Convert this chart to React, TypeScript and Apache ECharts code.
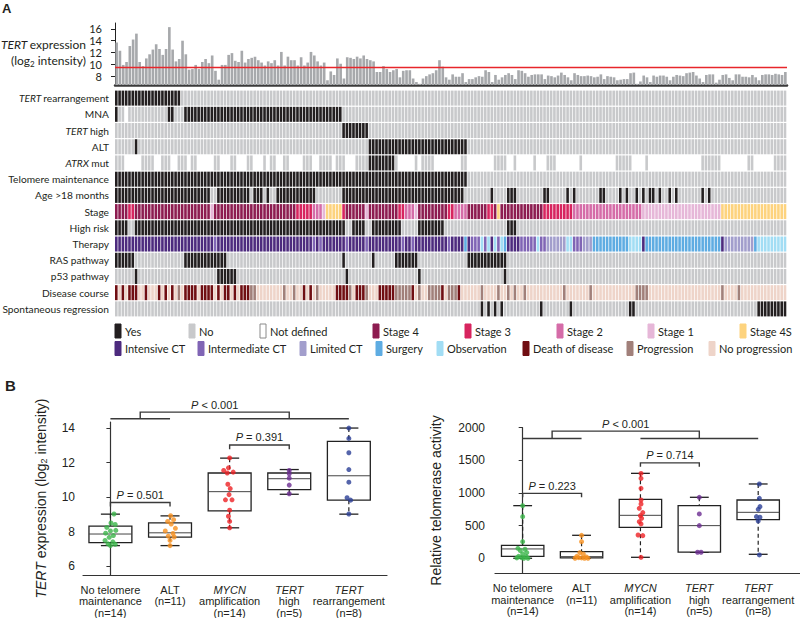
import React, { useEffect, useRef } from "react";
import * as echarts from "echarts";

type Seg = [number, number, string];

const N = 204;

// TERT expression (log2 intensity) per tumour
const expression: number[] = [
  13.7, 12.3, 9.9, 10.4, 13.1, 14.2, 15.2, 10.4, 9.7, 11.0,
  11.7, 12.5, 13.4, 12.6, 11.6, 12.6, 16.3, 12.5, 10.5, 10.9,
  14.0, 11.7, 9.1, 9.2, 9.9, 9.2, 10.4, 10.9, 10.2, 11.5,
  8.9, 7.4, 9.9, 9.9, 11.6, 11.9, 10.6, 10.4, 12.3, 10.3,
  10.9, 11.1, 11.3, 10.7, 10.3, 9.8, 10.5, 10.2, 10.7, 9.8,
  12.1, 9.8, 11.3, 10.7, 10.7, 9.8, 11.2, 9.8, 10.3, 12.1,
  11.5, 10.5, 9.8, 10.3, 7.3, 8.8, 8.2, 11.0, 10.1, 7.6,
  11.2, 11.1, 10.9, 11.3, 11.0, 11.5, 10.9, 10.7, 10.5, 8.7,
  8.7, 9.7, 9.2, 8.7, 9.0, 9.2, 7.8, 8.9,
  9.0, 9.0, 7.6, 7.0, 6.7, 7.6, 8.0, 8.3, 8.5, 9.0,
  10.7, 9.6, 7.8, 7.4, 8.3, 7.9, 7.9, 8.5, 7.0, 7.5,
  7.5, 7.8, 8.0, 7.9, 9.0, 8.7, 7.0, 8.2, 7.4, 7.8,
  8.2, 8.5, 8.2, 7.5, 9.0, 8.9, 8.5, 7.9, 8.2, 8.3,
  8.3, 8.3, 7.5, 8.1, 8.0, 7.8, 8.1, 8.6, 8.2, 7.8,
  7.3, 8.5, 8.2, 8.0, 8.0, 8.1, 8.0, 7.8, 7.9, 8.3,
  7.5, 8.0, 7.9, 7.8, 7.3, 7.4, 7.5, 7.5, 8.5, 8.6,
  6.7, 7.1, 8.1, 7.8, 7.0, 8.1, 7.9, 8.1, 8.1, 7.9,
  7.3, 7.9, 8.2, 8.1, 8.0, 8.5, 8.6, 8.7, 8.1, 7.6,
  7.0, 8.2, 8.3, 8.3, 6.9, 7.4, 8.2, 8.3, 7.7, 7.3,
  8.3, 8.3, 7.9, 7.9, 7.8, 8.2, 7.8, 7.3, 8.2, 8.3,
  8.3, 8.2, 8.4, 8.3, 8.2, 8.7,
];
const expressionThreshold = 9.5;
const expressionTicks = [8, 10, 12, 14, 16];

// Oncoprint rows
const rowLabels = [
  "TERT rearrangement", "MNA", "TERT high", "ALT", "ATRX mut", "Telomere maintenance",
  "Age >18 months", "Stage", "High risk", "Therapy", "RAS pathway", "p53 pathway",
  "Disease course", "Spontaneous regression",
];
const italicWords = ["TERT", "ATRX"];
const rowDefaults = ["N", "N", "N", "N", "N", "N", "N", "S4", "N", "IC", "N", "N", "NP", "N"];

const tertRearrangement: Seg[] = [[0, 20, "Y"]];
const mna: Seg[] = [[0, 1, "Y"], [3, 4, "U"], [16, 18, "Y"], [21, 69, "Y"]];
const tertHigh: Seg[] = [[69, 77, "Y"]];
const alt: Seg[] = [[6, 7, "Y"], [77, 107, "Y"]];
const atrxMut: Seg[] = [
  [3, 8, "U"], [12, 14, "U"], [17, 19, "U"], [22, 23, "U"], [25, 30, "U"], [32, 35, "U"],
  [37, 40, "U"], [42, 45, "U"], [46, 47, "U"], [49, 51, "U"], [53, 57, "U"], [60, 62, "U"],
  [66, 67, "U"], [70, 73, "U"], [77, 85, "Y"], [86, 91, "U"], [92, 93, "U"], [97, 105, "U"],
  [107, 115, "U"], [119, 121, "U"], [122, 127, "U"], [128, 131, "U"], [134, 141, "U"],
  [142, 152, "U"], [157, 161, "U"], [162, 178, "U"], [184, 192, "U"], [194, 200, "U"],
];
const telomereMaintenance: Seg[] = [[0, 107, "Y"]];
const ageOver18: Seg[] = [
  [0, 29, "Y"], [31, 41, "Y"], [42, 45, "Y"], [46, 47, "Y"], [49, 61, "Y"], [69, 106, "Y"],
  [114, 115, "Y"], [119, 122, "Y"], [130, 132, "Y"], [137, 138, "Y"], [139, 140, "Y"],
  [147, 149, "Y"], [153, 154, "Y"], [155, 156, "Y"], [158, 159, "Y"], [160, 161, "Y"],
  [162, 164, "Y"], [165, 166, "Y"], [168, 169, "Y"], [170, 171, "Y"], [178, 179, "Y"], [180, 181, "Y"],
];
const stage: Seg[] = [
  [4, 6, "S3"], [29, 30, "S1"], [55, 60, "S3"], [60, 63, "S2"], [63, 64, "S1"], [64, 69, "S4S"],
  [69, 70, "S3"], [76, 77, "S1"], [86, 88, "S3"], [88, 91, "S2"], [91, 92, "S1"], [101, 103, "S3"],
  [103, 107, "S2"], [113, 115, "S3"], [116, 117, "S4S"], [130, 139, "S3"], [139, 160, "S2"],
  [160, 184, "S1"], [184, 204, "S4S"],
];
const highRisk: Seg[] = [[0, 4, "Y"], [6, 70, "Y"], [72, 76, "Y"], [78, 87, "Y"], [92, 100, "Y"], [119, 122, "Y"]];
const therapy: Seg[] = [
  [30, 31, "MC"], [60, 61, "MC"], [62, 63, "MC"], [70, 71, "MC"], [76, 77, "MC"], [87, 88, "MC"],
  [90, 91, "MC"], [101, 102, "MC"], [106, 107, "SU"], [108, 111, "MC"], [111, 112, "OB"],
  [112, 113, "MC"], [113, 114, "OB"], [115, 116, "OB"], [116, 117, "MC"], [117, 118, "OB"],
  [118, 119, "SU"], [123, 128, "MC"], [128, 129, "OB"], [129, 131, "MC"], [131, 137, "LC"],
  [137, 139, "OB"], [139, 142, "MC"], [142, 145, "LC"], [145, 156, "SU"], [156, 160, "OB"],
  [161, 184, "SU"], [185, 194, "LC"], [194, 195, "SU"], [195, 204, "OB"],
];
const rasPathway: Seg[] = [[0, 6, "Y"], [21, 34, "Y"], [69, 70, "Y"], [78, 79, "Y"], [85, 92, "Y"], [107, 119, "Y"]];
const p53Pathway: Seg[] = [[6, 7, "Y"], [31, 37, "Y"], [70, 71, "Y"], [92, 93, "Y"], [118, 119, "Y"]];
const diseaseCourse: Seg[] = [
  [0, 1, "D"], [2, 3, "D"], [4, 7, "D"], [9, 10, "D"], [13, 14, "D"], [15, 16, "D"], [17, 18, "D"],
  [19, 20, "P"], [21, 25, "D"], [26, 30, "D"], [31, 32, "D"], [33, 35, "D"], [36, 37, "D"],
  [38, 41, "D"], [41, 43, "P"], [51, 52, "P"], [54, 55, "P"], [57, 58, "D"], [59, 60, "D"],
  [61, 62, "P"], [67, 71, "D"], [71, 72, "P"], [73, 76, "D"], [76, 77, "P"], [80, 85, "D"],
  [85, 90, "P"], [90, 91, "D"], [92, 93, "P"], [95, 99, "P"], [99, 100, "D"], [101, 104, "P"],
  [104, 105, "D"], [111, 112, "P"], [116, 117, "P"], [119, 120, "P"], [121, 122, "P"],
  [124, 125, "P"], [136, 137, "P"], [144, 145, "P"], [158, 162, "P"], [184, 185, "P"], [189, 190, "P"],
];
const spontaneousRegression: Seg[] = [
  [111, 112, "Y"], [113, 114, "Y"], [115, 116, "Y"], [117, 118, "Y"], [129, 130, "Y"],
  [138, 139, "Y"], [156, 158, "Y"], [195, 204, "Y"],
];
const rowSegments = [
  tertRearrangement, mna, tertHigh, alt, atrxMut, telomereMaintenance, ageOver18, stage,
  highRisk, therapy, rasPathway, p53Pathway, diseaseCourse, spontaneousRegression,
];

const codeOrder = ["Y", "N", "U", "S4", "S3", "S2", "S1", "S4S", "IC", "MC", "LC", "SU", "OB", "D", "P", "NP"];
const codeColors = [
  "#231f20", "#c8c9cb", "#ffffff", "#8d1c50", "#d7255f", "#d56ca8", "#e6b7d8", "#fdd37e",
  "#4d2b7e", "#8065b5", "#a29ecc", "#5eace2", "#a2ddf4", "#700e12", "#a1807a", "#eed4c9",
];

const legendRow1Codes = ["Y", "N", "U", "S4", "S3", "S2", "S1", "S4S"];
const legendRow1Labels = ["Yes", "No", "Not defined", "Stage 4", "Stage 3", "Stage 2", "Stage 1", "Stage 4S"];
const legendRow2Codes = ["IC", "MC", "LC", "SU", "OB", "D", "P", "NP"];
const legendRow2Labels = [
  "Intensive CT", "Intermediate CT", "Limited CT", "Surgery", "Observation",
  "Death of disease", "Progression", "No progression",
];

// Panel B
const groupNames = ["No telomere\nmaintenance", "ALT", "MYCN\namplification", "TERT\nhigh", "TERT\nrearrangement"];
const groupItalic = [false, false, true, true, true];
const groupCounts = [14, 11, 14, 5, 8];
const groupColors = ["#3bb54a", "#f7901e", "#ed2024", "#6b2c91", "#2b3f96"];

const expressionBox = [
  [7.2, 7.37, 7.87, 8.33, 9.02],
  [7.2, 7.69, 7.94, 8.52, 8.92],
  [8.23, 9.21, 10.32, 11.4, 12.26],
  [10.17, 10.44, 11.07, 11.4, 11.6],
  [9.02, 9.83, 11.24, 13.23, 14.0],
];
const expressionPoints = [
  [9.03, 8.51, 8.42, 8.25, 8.08, 8.05, 7.92, 7.78, 7.68, 7.5, 7.42, 7.3, 7.28, 7.2],
  [8.93, 8.7, 8.6, 8.45, 8.2, 8.05, 7.9, 7.75, 7.7, 7.5, 7.2],
  [12.27, 11.7, 11.55, 11.45, 11.4, 10.75, 10.5, 10.15, 9.85, 9.85, 9.25, 8.9, 8.6, 8.23],
  [11.55, 11.35, 11.1, 10.7, 10.2],
  [14.0, 13.4, 12.57, 11.6, 10.87, 9.97, 9.83, 9.03],
];
const expressionJitter = [
  [0.06, 0.01, 0.08, -0.06, 0.09, 0.0, -0.08, 0.05, -0.02, -0.09, 0.04, -0.04, 0.08, 0.0],
  [0.01, 0.06, -0.04, 0.02, 0.09, -0.08, 0.05, -0.03, 0.07, 0.0, 0.0],
  [0.0, -0.02, -0.1, 0.06, -0.04, -0.03, 0.01, -0.01, -0.07, 0.04, 0.0, -0.02, 0.0, 0.0],
  [0, 0, 0, 0, 0],
  [0, 0, 0, 0, 0, -0.03, 0.03, 0],
];
const activityBox = [
  [0, 30, 143, 199, 806],
  [0, 5, 25, 102, 352],
  [15, 474, 658, 903, 1301],
  [92, 95, 500, 806, 934],
  [61, 592, 704, 893, 1138],
];
const activityPoints = [
  [806, 638, 255, 153, 138, 117, 87, 66, 30, 25, 10, 5, 0, 0],
  [352, 255, 87, 66, 30, 20, 10, 5, 0, 0, 0],
  [1300, 1224, 1071, 893, 832, 765, 700, 653, 612, 561, 526, 357, 347, 15],
  [934, 679, 500, 92, 92],
  [1138, 918, 791, 750, 638, 628, 571, 51],
];
const activityJitter = [
  [0, 0, 0, -0.08, 0.04, -0.04, 0.07, 0, -0.07, 0.06, -0.02, -0.1, 0.09, 0.02],
  [0, 0, -0.03, 0.03, -0.08, 0.08, -0.05, 0.0, 0.05, 0.11, -0.11],
  [0.01, 0.01, 0.01, 0.01, 0.01, -0.02, 0.04, 0, 0.02, -0.02, 0.01, -0.04, 0.04, 0.01],
  [0, 0, 0, -0.03, 0.03],
  [0.02, 0.02, 0.03, 0, -0.03, 0.03, 0, 0.02],
];
// brackets: [x1, x2, y, yDrop, kind(0 = bracket, 1 = plain line), labelIndex]
const expressionBrackets = [
  [0.5, 3, 14.92, 14.54, 0, 0], [0, 1, 14.54, 14.54, 1, -1], [2, 4, 14.54, 14.54, 1, -1],
  [0, 1, 9.69, 9.46, 0, 1], [2, 3, 13.02, 12.77, 0, 2],
];
const expressionPLabels = ["< 0.001", "= 0.501", "= 0.391"];
const activityBrackets = [
  [0.5, 3, 1947, 1835, 0, 0], [0, 1, 1835, 1835, 1, -1], [2, 4, 1835, 1835, 1, -1],
  [0, 1, 994, 933, 0, 1], [2, 3, 1462, 1401, 0, 2],
];
const activityPLabels = ["< 0.001", "= 0.223", "= 0.714"];
const expressionTicksB = [6, 8, 10, 12, 14];
const activityTicks = [0, 500, 1000, 1500, 2000];

const FA = '"Lato", sans-serif';
const FB = '"Liberation Sans", Arial, sans-serif';
const INK = "#231f20";

function buildHeatmapData() {
  const out: number[][] = [];
  rowSegments.forEach((segs, r) => {
    for (let c = 0; c < N; c++) {
      let code = rowDefaults[r];
      for (const s of segs) if (c >= s[0] && c < s[1]) code = s[2];
      out.push([c, r, codeOrder.indexOf(code)]);
    }
  });
  return out;
}

function rowLabelFormatter(v: string) {
  const w = italicWords.find((x) => v.startsWith(x + " "));
  return w ? `{i|${w} }{n|${v.slice(w.length + 1)}}` : `{n|${v}}`;
}

function groupLabelFormatter(v: number) {
  const i = Math.round(v);
  const parts = groupNames[i].split("\n");
  const first = groupItalic[i] ? `{i|${parts[0]}}` : `{n|${parts[0]}}`;
  const rest = parts.slice(1).map((p) => `{n|${p}}`);
  return [first, ...rest, `{n|(n=${groupCounts[i]})}`].join("\n");
}

const boxRender = (params: any, api: any) => {
  const i = api.value(0);
  const lo = api.value(1), q1 = api.value(2), md = api.value(3), q3 = api.value(4), hi = api.value(5);
  const unit = api.size([1, 0])[0];
  const half = unit * 0.36;
  const cap = unit * 0.16;
  const cx = api.coord([i, md])[0];
  const y = (v: number) => api.coord([i, v])[1];
  const solid = { stroke: "#222", lineWidth: 1.3 };
  const dashed = { stroke: "#222", lineWidth: 1.2, lineDash: [4, 3] };
  return {
    type: "group",
    children: [
      { type: "line", shape: { x1: cx, y1: y(hi), x2: cx, y2: y(q3) }, style: dashed },
      { type: "line", shape: { x1: cx, y1: y(q1), x2: cx, y2: y(lo) }, style: dashed },
      { type: "line", shape: { x1: cx - cap, y1: y(hi), x2: cx + cap, y2: y(hi) }, style: solid },
      { type: "line", shape: { x1: cx - cap, y1: y(lo), x2: cx + cap, y2: y(lo) }, style: solid },
      { type: "rect", shape: { x: cx - half, y: y(q3), width: 2 * half, height: y(q1) - y(q3) }, style: { fill: "#fff", ...solid } },
      { type: "line", shape: { x1: cx - half, y1: y(md), x2: cx + half, y2: y(md) }, style: { stroke: "#444", lineWidth: 1 } },
    ],
  };
};

const makeBracketRender = (labels: string[]) => (params: any, api: any) => {
  const x1 = api.value(0), x2 = api.value(1), yv = api.value(2), yd = api.value(3);
  const kind = api.value(4), li = api.value(5);
  const a = api.coord([x1, yv]);
  const b = api.coord([x2, yv]);
  const ad = api.coord([x1, yd]);
  const bd = api.coord([x2, yd]);
  const stroke = { stroke: "#3a3a3a", lineWidth: 1.4, fill: null };
  const children: any[] = [];
  if (kind === 0) {
    children.push({ type: "polyline", shape: { points: [ad, a, b, bd] }, style: stroke });
  } else {
    children.push({ type: "line", shape: { x1: a[0], y1: a[1], x2: b[0], y2: b[1] }, style: stroke });
  }
  if (li >= 0) {
    children.push({
      type: "text",
      style: {
        x: (a[0] + b[0]) / 2,
        y: a[1] - 2,
        text: `{i|P}{n| ${labels[li]}}`,
        align: "center",
        verticalAlign: "bottom",
        fill: INK,
        fontFamily: FB,
        fontSize: 11,
        rich: {
          i: { fontStyle: "italic", fontSize: 11, fontFamily: FB, fill: INK },
          n: { fontSize: 11, fontFamily: FB, fill: INK },
        },
      },
    });
  }
  return { type: "group", children };
};

function scatterData(points: number[][], jitter: number[][]) {
  const out: any[] = [];
  points.forEach((vals, g) =>
    vals.forEach((v, k) => out.push({ value: [g + jitter[g][k], v], itemStyle: { color: groupColors[g] } }))
  );
  return out;
}

function boxAxisX(gridIndex: number, min: number, max: number) {
  return {
    gridIndex,
    type: "value",
    min,
    max,
    axisLine: { show: true, onZero: false, lineStyle: { color: "#333", width: 1.2 } },
    axisTick: { show: false },
    splitLine: { show: false },
    axisLabel: {
      customValues: [0, 1, 2, 3, 4],
      formatter: groupLabelFormatter,
      margin: 9,
      rich: {
        n: { fontSize: 11, lineHeight: 11.5, fontFamily: FB, color: INK },
        i: { fontSize: 11, lineHeight: 11.5, fontFamily: FB, color: INK, fontStyle: "italic" },
      },
    },
  };
}

function boxAxisY(gridIndex: number, min: number, max: number, ticks: number[], name: string, nameGap: number, margin: number) {
  return {
    gridIndex,
    type: "value",
    min,
    max,
    name,
    nameLocation: "middle",
    nameGap,
    nameRotate: 90,
    nameTextStyle: {
      fontSize: 14,
      fontFamily: FB,
      color: INK,
      rich: {
        n: { fontSize: 14, fontFamily: FB, color: INK },
        i: { fontSize: 14, fontFamily: FB, color: INK, fontStyle: "italic" },
        s: { fontSize: 9, fontFamily: FB, color: INK, verticalAlign: "bottom", padding: [6, 0, 0, 0] },
      },
    },
    axisLine: { show: true, lineStyle: { color: "#333", width: 1.2 } },
    axisTick: { show: true, customValues: ticks, length: 4, lineStyle: { color: "#333" } },
    axisLabel: { customValues: ticks, fontSize: 12, fontFamily: FB, color: INK, margin, formatter: (v: number) => String(v) },
    splitLine: { show: false },
  };
}

function buildOption(): any {
  const idx = Array.from({ length: N }, (_, i) => i);
  const graphic: any[] = [
    { type: "text", x: 2, y: 2, style: { text: "A", fontSize: 13, fontWeight: "bold", fontFamily: FB, fill: INK } },
    { type: "text", x: 5, y: 378, style: { text: "B", fontSize: 15, fontWeight: "bold", fontFamily: FB, fill: INK } },
    {
      type: "text",
      x: 86,
      y: 52,
      style: {
        text: "{i|TERT }{n|expression}\n{n|(log}{s|2}{n| intensity)}",
        align: "right",
        verticalAlign: "middle",
        fill: INK,
        fontFamily: FA,
        fontSize: 12,
        rich: {
          i: { fontSize: 12, fontStyle: "italic", fontFamily: FA, fill: INK, lineHeight: 16 },
          n: { fontSize: 12, fontFamily: FA, fill: INK, lineHeight: 16 },
          s: { fontSize: 8, fontFamily: FA, fill: INK, lineHeight: 16, verticalAlign: "bottom" },
        },
      },
    },
  ];
  const legendX1 = [115, 189, 260, 373, 465, 557, 648, 740];
  const legendX2 = [115, 198, 300, 376, 437, 523, 627, 709];
  const addLegend = (codes: string[], labels: string[], xs: number[], yc: number) => {
    codes.forEach((c, k) => {
      const col = codeColors[codeOrder.indexOf(c)];
      graphic.push({
        type: "rect",
        shape: { x: xs[k], y: yc - 7, width: 6, height: 14 },
        style: { fill: col, stroke: c === "U" ? "#8a8a8a" : col, lineWidth: 1 },
      });
      graphic.push({
        type: "text",
        x: xs[k] + 10,
        y: yc,
        style: { text: labels[k], fontSize: 11, fontFamily: FA, fill: INK, verticalAlign: "middle" },
      });
    });
  };
  addLegend(legendRow1Codes, legendRow1Labels, legendX1, 331);
  addLegend(legendRow2Codes, legendRow2Labels, legendX2, 348.5);

  return {
    animation: false,
    backgroundColor: "#fff",
    grid: [
      { left: 115, top: 23, width: 672, height: 62, outerBoundsMode: "none" },
      { left: 115, top: 90, width: 672, height: 227, outerBoundsMode: "none" },
      { left: 83, top: 422, width: 304, height: 153, outerBoundsMode: "none" },
      { left: 495, top: 427.7, width: 305, height: 145.6, outerBoundsMode: "none" },
    ],
    xAxis: [
      {
        gridIndex: 0, type: "category", data: idx,
        axisLine: { lineStyle: { color: "#3a3a3a", width: 2.5 } },
        axisTick: { show: false }, axisLabel: { show: false },
      },
      { gridIndex: 1, type: "category", data: idx, show: false },
      boxAxisX(2, -0.46, 4.64),
      boxAxisX(3, -0.47, 4.71),
    ],
    yAxis: [
      {
        gridIndex: 0, type: "value", min: 6.5, max: 17,
        axisLine: { show: true, lineStyle: { color: "#222", width: 1 } },
        axisTick: { show: true, customValues: expressionTicks, length: 4, lineStyle: { color: "#222" } },
        axisLabel: { customValues: expressionTicks, fontSize: 11, fontFamily: FA, color: INK, margin: 13 },
        splitLine: { show: false },
      },
      {
        gridIndex: 1, type: "category", data: rowLabels, inverse: true,
        axisLine: { show: false }, axisTick: { show: false },
        axisLabel: {
          formatter: rowLabelFormatter,
          margin: 6,
          rich: {
            n: { fontSize: 10.2, fontFamily: FA, color: INK },
            i: { fontSize: 10.2, fontFamily: FA, color: INK, fontStyle: "italic" },
          },
        },
      },
      boxAxisY(2, 5.5, 14.35, expressionTicksB, "{i|TERT }{n|expression (log}{s|2}{n| intensity)}", 35, 8),
      boxAxisY(3, -230, 2000, activityTicks, "Relative telomerase activity", 52, 10),
    ],
    series: [
      {
        type: "bar", xAxisIndex: 0, yAxisIndex: 0, data: expression,
        barCategoryGap: "20%",
        itemStyle: { color: "#a7a9ac" },
        markLine: {
          silent: true, symbol: "none", label: { show: false },
          lineStyle: { color: "#e8262b", width: 1.3, type: "solid" },
          data: [{ yAxis: expressionThreshold }],
        },
      },
      {
        type: "custom", xAxisIndex: 1, yAxisIndex: 1, data: buildHeatmapData(),
        encode: { x: 0, y: 1 },
        renderItem: (params: any, api: any) => {
          const p = api.coord([api.value(0), api.value(1)]);
          const w = api.size([1, 0])[0];
          const h = api.size([0, 1])[1];
          return {
            type: "rect",
            shape: { x: p[0] - w / 2, y: p[1] - h / 2 + 0.6, width: Math.max(w - 0.7, 0.5), height: h - 1.2 },
            style: { fill: codeColors[api.value(2)] },
          };
        },
      },
      {
        type: "custom", xAxisIndex: 2, yAxisIndex: 2, clip: false,
        data: expressionBox.map((b, i) => [i, ...b]), encode: { x: 0, y: [1, 5] }, renderItem: boxRender,
      },
      {
        type: "scatter", xAxisIndex: 2, yAxisIndex: 2, symbolSize: 5,
        data: scatterData(expressionPoints, expressionJitter),
      },
      {
        type: "custom", xAxisIndex: 2, yAxisIndex: 2, clip: false,
        data: expressionBrackets, encode: { x: [0, 1], y: [2, 3] }, renderItem: makeBracketRender(expressionPLabels),
      },
      {
        type: "custom", xAxisIndex: 3, yAxisIndex: 3, clip: false,
        data: activityBox.map((b, i) => [i, ...b]), encode: { x: 0, y: [1, 5] }, renderItem: boxRender,
      },
      {
        type: "scatter", xAxisIndex: 3, yAxisIndex: 3, symbolSize: 5,
        data: scatterData(activityPoints, activityJitter),
      },
      {
        type: "custom", xAxisIndex: 3, yAxisIndex: 3, clip: false,
        data: activityBrackets, encode: { x: [0, 1], y: [2, 3] }, renderItem: makeBracketRender(activityPLabels),
      },
    ],
    graphic,
  };
}

export default function App() {
  const ref = useRef<HTMLDivElement>(null);
  useEffect(() => {
    if (!ref.current) return;
    const chart = echarts.init(ref.current, null, { renderer: "svg" });
    chart.setOption(buildOption());
    return () => chart.dispose();
  }, []);
  return (
    <div
      ref={ref}
      style={{ position: "fixed", left: 0, top: 0, width: 800, height: 618, background: "#fff" }}
    />
  );
}
